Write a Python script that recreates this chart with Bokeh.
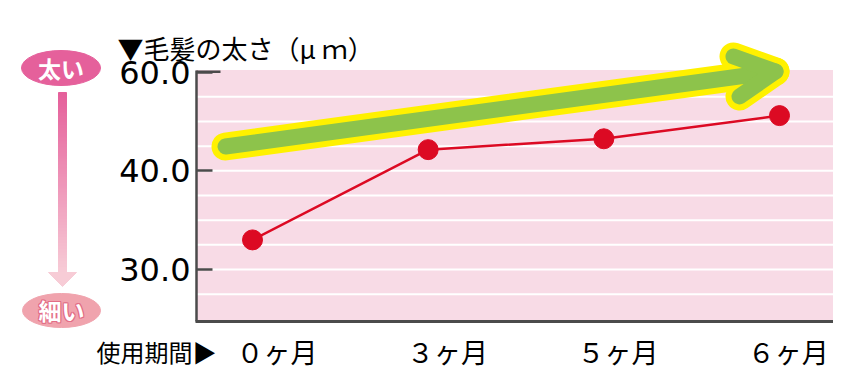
import numpy as np
from bokeh.plotting import figure
from bokeh.models import Range1d, FixedTicker, LinearAxis
from bokeh.embed import file_html
from bokeh.resources import INLINE
from bokeh.core.properties import value

# ---- data ----
months = ["０ヶ月", "３ヶ月", "５ヶ月", "６ヶ月"]
thickness = [33.0, 44.3, 46.5, 51.2]
y_ticks = [30.0, 40.0, 60.0]
y_tick_labels = ["30.0", "40.0", "60.0"]
title_text = "▼毛髪の太さ（μ ｍ）"
xlabel_text = "使用期間▶"
thick_text = "太い"
thin_text = "細い"

# ---- style ----
JP = "Noto Sans CJK JP"
NUM = "DejaVu Sans"
PINK_BG = "#f8dbe6"
RED = "#dc0a23"
AXIS = "#4b4b4b"
GREEN = "#8dc34b"
YELLOW = "#fff100"
PILL_TOP = "#e5609b"
PILL_BOT = "#f0a3ad"

W, H = 833, 371
# layout of the value area on the canvas (pixels)
X_ORIGIN_PX, X_STEP_PX = 252.0, 175.67     # first category / category spacing
T_ORIGIN_PX, T_STEP_PX = 269.0, 98.65      # first labelled tick / tick spacing
PLOT_L_PX, PLOT_R_PX, PLOT_T_PX, PLOT_B_PX = 196.0, 835.0, 70.0, 320.5

def px2x(px):
    return (px - X_ORIGIN_PX) / X_STEP_PX

def px2t(py):
    return (T_ORIGIN_PX - py) / T_STEP_PX

pos = list(range(len(months)))
# broken (piecewise) value axis: each labelled tick is one step apart
y_pos = np.interp(thickness, y_ticks, list(range(len(y_ticks))))

p = figure(width=W, height=H,
           x_range=Range1d(px2x(0), px2x(W)), y_range=Range1d(px2t(H), px2t(0)),
           x_axis_location=None, y_axis_location=None,
           output_backend="svg", toolbar_location=None, min_border=0,
           background_fill_color="white", border_fill_color="white", outline_line_color=None)
p.grid.visible = False
p.extra_x_ranges = {"px": Range1d(0, W)}
p.extra_y_ranges = {"px": Range1d(H, 0)}

L, R = px2x(PLOT_L_PX), px2x(PLOT_R_PX)
B, T = px2t(PLOT_B_PX), px2t(PLOT_T_PX)

# pink plotting area with white horizontal rules (quarter steps)
p.quad(left=L, right=R, bottom=B, top=T, color=PINK_BG)
rules = list(np.arange(-0.25, 1.76, 0.25))
p.segment(x0=[L] * len(rules), x1=[R] * len(rules), y0=rules, y1=rules,
          line_color="white", line_width=2)

# axes
yax = LinearAxis(fixed_location=L, bounds=(B, T))
yax.ticker = FixedTicker(ticks=list(range(len(y_ticks))))
yax.major_label_overrides = {i: lab for i, lab in enumerate(y_tick_labels)}
yax.axis_line_color = AXIS
yax.axis_line_width = 2.5
yax.major_tick_line_color = AXIS
yax.major_tick_line_width = 2.5
yax.major_tick_in = 16
yax.major_tick_out = 0
yax.minor_tick_line_color = None
yax.major_label_text_font = NUM
yax.major_label_text_font_size = "32px"
yax.major_label_text_color = "black"
yax.major_label_standoff = 6
p.add_layout(yax, "left")

# month labels sit slightly right of their points, on a slightly tighter pitch
xticks = [0.14 + 0.97 * i for i in pos]
xax = LinearAxis(fixed_location=B, bounds=(px2x(194.8), R))
xax.ticker = FixedTicker(ticks=xticks)
xax.major_label_overrides = {t: m for t, m in zip(xticks, months)}
xax.axis_line_color = AXIS
xax.axis_line_width = 3
xax.major_tick_line_color = None
xax.minor_tick_line_color = None
xax.major_label_text_font = JP
xax.major_label_text_font_size = "27px"
xax.major_label_text_color = "black"
xax.major_label_standoff = 5
p.add_layout(xax, "below")

# top corner of the value axis
p.segment(x0=[PLOT_L_PX], x1=[220], y0=[71.2], y1=[71.2], line_color=AXIS,
          line_width=2.5, x_range_name="px", y_range_name="px")

# decorative trend arrow (shaft + chevron head), canvas pixels
arrow_xs = [[225, 775], [733, 775, 739]]
arrow_ys = [[146, 71], [56, 71, 96]]
p.multi_line(arrow_xs, arrow_ys, line_color=YELLOW, line_width=28,
             line_join="round", line_cap="round", x_range_name="px", y_range_name="px")
p.multi_line(arrow_xs, arrow_ys, line_color=GREEN, line_width=16,
             line_join="round", line_cap="round", x_range_name="px", y_range_name="px")

# data
p.line(pos, y_pos, line_color=RED, line_width=2.5)
p.scatter(pos, y_pos, size=20, color=RED)

# texts
p.text(x=[117], y=[47], text=[title_text], text_align="left", text_baseline="middle",
       text_font=value(JP), text_font_size="26px", text_color="black",
       x_range_name="px", y_range_name="px")
p.text(x=[96], y=[351], text=[xlabel_text], text_align="left", text_baseline="middle",
       text_font=value(JP), text_font_size="24px", text_color="black",
       x_range_name="px", y_range_name="px")

# ---- left indicator: thick / thin ----
def mix(c1, c2, f):
    a = [int(c1[i:i + 2], 16) for i in (1, 3, 5)]
    b = [int(c2[i:i + 2], 16) for i in (1, 3, 5)]
    return "#%02x%02x%02x" % tuple(round(a[k] + (b[k] - a[k]) * f) for k in range(3))

n = 60
edges = np.linspace(92.0, 273.0, n + 1)
cols = [mix(PILL_TOP, "#f7cbd6", i / (n - 1)) for i in range(n)]
p.quad(left=58, right=66, top=edges[:-1], bottom=edges[1:] + 0.5, color=cols,
       x_range_name="px", y_range_name="px")
p.patch([48, 76, 62], [272, 272, 286], color="#f7ccd6", x_range_name="px", y_range_name="px")

p.ellipse(x=[60.5], y=[67.5], width=[79], height=[35], color=PILL_TOP,
          x_range_name="px", y_range_name="px")
p.ellipse(x=[61], y=[310], width=[78], height=[34], color=PILL_BOT,
          x_range_name="px", y_range_name="px")

p.text(x=[60.5], y=[67], text=[thick_text], text_align="center", text_baseline="middle",
       text_font=value(JP), text_font_style="bold", text_font_size="23px", text_color="white",
       x_range_name="px", y_range_name="px")
for ddx, ddy in [(-1, 0), (1, 0), (0, -1), (0, 1), (-1, -1), (1, 1), (-1, 1), (1, -1)]:
    p.text(x=[61 + ddx], y=[309 + ddy], text=[thin_text], text_align="center",
           text_baseline="middle", text_font=value(JP), text_font_style="bold",
           text_font_size="23px", text_color="#e36d86", x_range_name="px", y_range_name="px")
p.text(x=[61], y=[309], text=[thin_text], text_align="center", text_baseline="middle",
       text_font=value(JP), text_font_style="bold", text_font_size="23px", text_color="white",
       x_range_name="px", y_range_name="px")

open("out.html", "w").write(file_html(p, INLINE))
